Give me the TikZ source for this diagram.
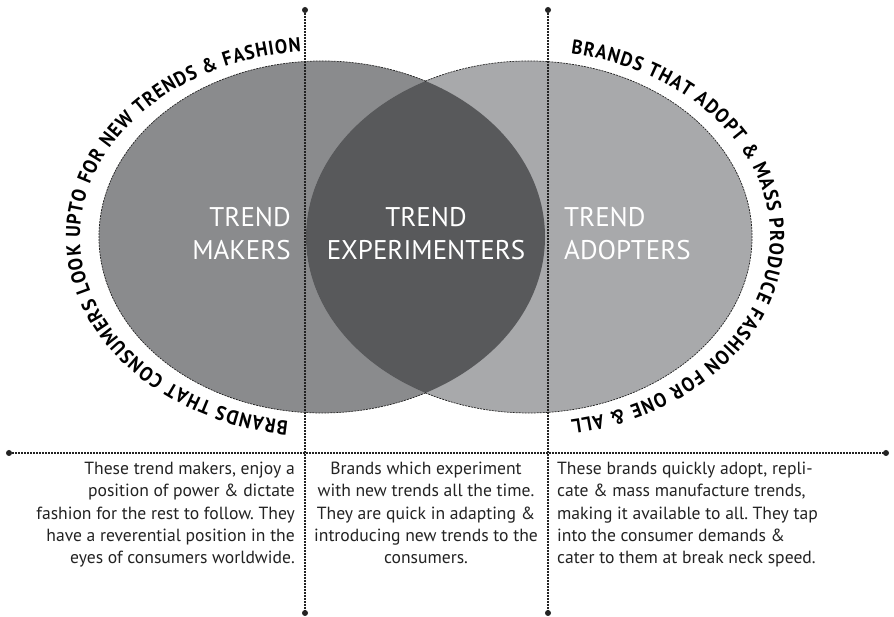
\documentclass[tikz,border=0pt]{standalone}
\usepackage{fontspec}
\setmainfont{PT Sans}
\newfontfamily\arcfamily{PT Sans}[FakeStretch=0.92]
\usetikzlibrary{decorations.text}
\frenchspacing

\definecolor{makerfill}{RGB}{138,139,141}
\definecolor{adopterfill}{RGB}{168,169,171}
\definecolor{overlapfill}{RGB}{88,89,91}
\definecolor{inkgray}{RGB}{35,35,35}

\newcommand\arcfont{\arcfamily\fontsize{20}{20}\selectfont\bfseries}

\begin{document}
\begin{tikzpicture}[x=1pt,y=1pt,
  guide/.style={line width=1.2pt, dash pattern=on 2pt off 1pt, draw=inkgray},
  guidedot/.style={fill=inkgray},
  rim/.style={line width=0.7pt, dash pattern=on 2pt off 1pt, draw=inkgray},
  title/.style={text=white, inner sep=0pt, font=\fontsize{27}{33}\selectfont},
  body/.style={text=inkgray, inner sep=0pt, font=\fontsize{17.6}{22.2}\selectfont}]

\useasboundingbox (0,0) rectangle (894,617);
\fill[white] (0,0) rectangle (894,617);

% ellipse centres
\coordinate (L) at (322,380);
\coordinate (R) at (529,380);

% the two sets and their overlap
\fill[makerfill] (L) ellipse[x radius=223, y radius=176];
\fill[adopterfill] (R) ellipse[x radius=223, y radius=176];
\begin{scope}
  \clip (L) ellipse[x radius=223, y radius=176];
  \fill[overlapfill] (R) ellipse[x radius=223, y radius=176];
\end{scope}

% dashed outer rims
\draw[rim] (L) ++(62.2:223 and 176) arc[start angle=62.2, end angle=297.8, x radius=223, y radius=176];
\draw[rim] (R) ++(117.8:223 and 176) arc[start angle=117.8, end angle=-117.8, x radius=223, y radius=176];

% curved captions
\path[decorate, decoration={text along path,
  text={|\arcfont|BRANDS THAT CONSUMERS LOOK UPTO FOR NEW TRENDS {\&} FASHION},
  text align={fit to path}}]
  (L) ++(262:242 and 186) arc[start angle=262, end angle=95, x radius=242, y radius=186];
\path[decorate, decoration={text along path,
  text={|\arcfont|BRANDS THAT ADOPT {\&} MASS PRODUCE FASHION FOR ONE {\&} ALL},
  text align={fit to path}}]
  (R) ++(80:241 and 186) arc[start angle=80, end angle=-80, x radius=241, y radius=186];

% set titles
\node[title, align=right, anchor=east] (makers) at (291,383) {TREND\\MAKERS};
\node[title, align=center] (experimenters) at (426,383) {TREND\\EXPERIMENTERS};
\node[title, align=left, anchor=west] (adopters) at (564,383) {TREND\\ADOPTERS};

% guide lines
\coordinate (v1top) at (305,607);
\coordinate (v1bot) at (305,4);
\coordinate (v2top) at (548,607);
\coordinate (v2bot) at (548,4);
\coordinate (hleft) at (9,164);
\coordinate (hright) at (886,164);
\draw[guide] (v1top) -- (v1bot);
\draw[guide] (v2top) -- (v2bot);
\draw[guide] (hleft) -- (hright);
\foreach \p in {v1top,v1bot,v2top,v2bot,hleft,hright}
  \fill[guidedot] (\p) circle[radius=3];

% descriptions
\node[body, align=right, anchor=north east] (makersnote) at (295,155)
  {These trend makers, enjoy a\\position of power \& dictate\\fashion for the rest to follow. They\\have a reverential position in the\\eyes of consumers worldwide.};
\node[body, align=center, anchor=north] (experimentersnote) at (426,155)
  {Brands which experiment\\with new trends all the time.\\They are quick in adapting \&\\introducing new trends to the\\consumers.};
\node[body, align=left, anchor=north west] (adoptersnote) at (557,155)
  {These brands quickly adopt, repli-\\cate \& mass manufacture trends,\\making it available to all. They tap\\into the consumer demands \&\\cater to them at break neck speed.};

\end{tikzpicture}
\end{document}
